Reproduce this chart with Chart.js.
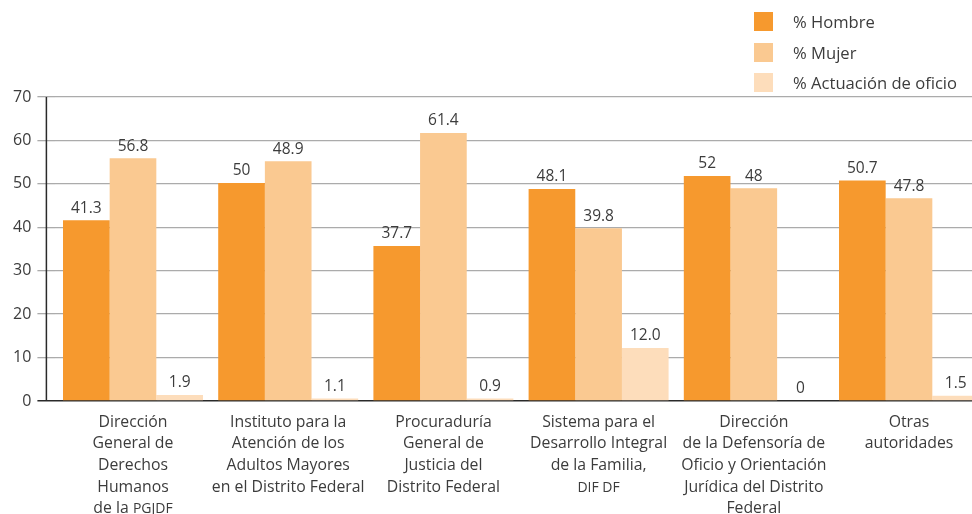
<!DOCTYPE html>
<html>
<head>
<meta charset="utf-8">
<script src="https://cdn.jsdelivr.net/npm/chart.js@4"></script>
<style>
  body { margin: 0; background: #fff; overflow: hidden; }
  #wrap { position: relative; width: 972px; height: 514px; overflow: hidden; }
  #chart { position: absolute; left: 0; top: 0; }
  #legend { position: absolute; left: 754px; top: 12px; font-family: "Open Sans", sans-serif; font-size: 16.6px; color: #3c3c3c; }
  .item { display: flex; align-items: center; height: 19px; margin-bottom: 11.5px; }
  .box { width: 19px; height: 19px; margin-right: 20px; }
</style>
</head>
<body>
<div id="wrap">
  <canvas id="chart" width="990" height="514"></canvas>
  <div id="legend"></div>
</div>
<script>
// Datos
const categories = [
  ["Dirección", "General de", "Derechos", "Humanos", "de la |PGJDF"],
  ["Instituto para la", "Atención de los", "Adultos Mayores", "en el Distrito Federal"],
  ["Procuraduría", "General de", "Justicia del", "Distrito Federal"],
  ["Sistema para el", "Desarrollo Integral", "de la Familia,", "|DIF DF"],
  ["Dirección", "de la Defensoría de", "Oficio y Orientación", "Jurídica del Distrito", "Federal"],
  ["Otras", "autoridades"]
];
const seriesNames = ["% Hombre", "% Mujer", "% Actuación de oficio"];
const colors = ["#F6992E", "#FAC991", "#FDDDBB"];

// alturas de barra tal como aparecen
const hombre = [41.6, 50.2, 35.7, 48.8, 51.8, 50.8];
const mujer = [55.9, 55.2, 61.7, 39.8, 49.0, 46.7];
const oficio = [1.4, 0.6, 0.6, 12.2, 0, 1.2];

// etiquetas impresas sobre las barras
const hombreLabels = ["41.3", "50", "37.7", "48.1", "52", "50.7"];
const mujerLabels = ["56.8", "48.9", "61.4", "39.8", "48", "47.8"];
const oficioLabels = ["1.9", "1.1", "0.9", "12.0", "0", "1.5"];

const yTicks = [0, 10, 20, 30, 40, 50, 60, 70];

const FONT = '"Open Sans", sans-serif';
const TEXT = "#3c3c3c";

// Leyenda
document.getElementById("legend").innerHTML = seriesNames.map((n, i) =>
  `<div class="item"><div class="box" style="background:${colors[i]}"></div><span>${n}</span></div>`
).join("");

const allLabels = [hombreLabels, mujerLabels, oficioLabels];

const valueLabels = {
  id: "valueLabels",
  afterDatasetsDraw(chart) {
    const ctx = chart.ctx;
    ctx.save();
    ctx.font = "15.5px " + FONT;
    ctx.fillStyle = TEXT;
    ctx.textAlign = "center";
    ctx.textBaseline = "middle";
    chart.data.datasets.forEach((ds, i) => {
      chart.getDatasetMeta(i).data.forEach((bar, j) => {
        ctx.fillText(allLabels[i][j], bar.x, bar.y - 12);
      });
    });
    ctx.restore();
  }
};

// eje vertical y etiquetas de categoría
const axisAndCats = {
  id: "axisAndCats",
  afterDraw(chart) {
    const ctx = chart.ctx;
    const y = chart.scales.y, x = chart.scales.x;
    const axX = chart.chartArea.left - 9;
    ctx.save();
    ctx.strokeStyle = "#2a2a2a";
    ctx.lineWidth = 1.5;
    ctx.beginPath();
    ctx.moveTo(axX, y.getPixelForValue(70));
    ctx.lineTo(axX, y.getPixelForValue(0));
    ctx.stroke();

    ctx.fillStyle = TEXT;
    ctx.textBaseline = "middle";
    ctx.textAlign = "left";
    const big = "15.8px " + FONT, small = "14px " + FONT;
    categories.forEach((lines, i) => {
      const cx = x.getPixelForValue(i);
      lines.forEach((line, k) => {
        const ly = y.getPixelForValue(0) + 21 + k * 21.7;
        const [a, b] = line.split("|");
        ctx.font = big;
        const wa = ctx.measureText(a).width;
        ctx.font = small;
        const wb = b ? ctx.measureText(b).width : 0;
        let sx = cx - (wa + wb) / 2;
        ctx.font = big;
        ctx.fillText(a, sx, ly);
        if (b) { ctx.font = small; ctx.fillText(b, sx + wa, ly + 0.5); }
      });
    });
    ctx.restore();
  }
};

new Chart(document.getElementById("chart"), {
  type: "bar",
  data: {
    labels: categories.map((c, i) => i),
    datasets: [hombre, mujer, oficio].map((d, i) => ({
      label: seriesNames[i],
      data: d,
      backgroundColor: colors[i],
      borderWidth: 0,
      categoryPercentage: 0.902,
      barPercentage: 1.0
    }))
  },
  options: {
    responsive: false,
    animation: false,
    layout: { padding: { top: 97, right: 3.4, left: 0, bottom: 0 } },
    plugins: { legend: { display: false }, tooltip: { enabled: false } },
    scales: {
      x: {
        ticks: { display: false },
        grid: { display: false },
        border: { display: false },
        afterFit(s) { s.height = 113; }
      },
      y: {
        min: 0,
        max: 70,
        afterBuildTicks(s) { s.ticks = yTicks.map(v => ({ value: v })); },
        afterFit(s) { s.width = 55.4; },
        ticks: { font: { family: FONT, size: 16 }, color: TEXT, padding: 6 },
        grid: {
          color: c => c.tick && c.tick.value === 0 ? "#2a2a2a" : "#ababab",
          lineWidth: c => c.tick && c.tick.value === 0 ? 1.5 : 1.3,
          tickLength: 18
        },
        border: { display: false }
      }
    }
  },
  plugins: [valueLabels, axisAndCats]
});
</script>
</body>
</html>
